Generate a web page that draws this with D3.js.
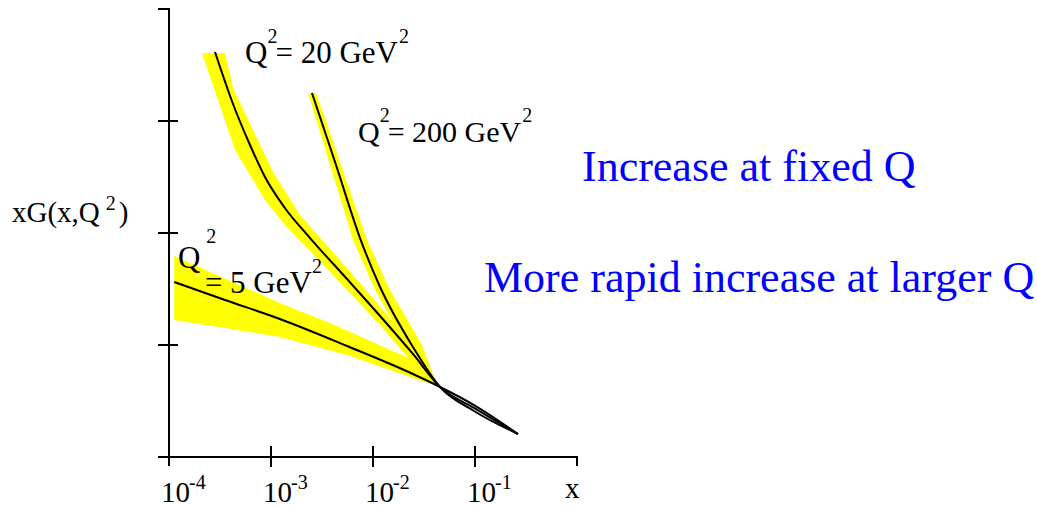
<!doctype html>
<html>
<head>
<meta charset="utf-8">
<script src="https://d3js.org/d3.v7.min.js"></script>
<style>
  body{margin:0;background:#fff;}
  svg{font-family:'Liberation Serif','Times New Roman',serif;}
  .axis path,.axis line{stroke:#000;stroke-width:2px;shape-rendering:crispEdges;}
  .band{fill:#ffff00;stroke:none;}
  .curve{fill:none;stroke:#000;stroke-width:2px;}
  .note{fill:#0000ff;font-size:44px;}
</style>
</head>
<body>
<svg id="chart" width="1037" height="508"></svg>
<script>
// x ticks (powers of ten) and their exponents
var xTicks = [1e-4, 1e-3, 1e-2, 1e-1];
var xTickExp = ['-4', '-3', '-2', '-1'];
var yTicks = [1, 2, 3];

// central curves, [x, xG]
var q5Line = [[1.15e-4,1.554],[3.62e-4,1.393],[1.25e-3,1.223],[5.69e-3,0.982],[2.52e-2,0.732],[4.65e-2,0.616],[0.1,0.455],[0.27,0.196]];
var q20Line = [[2.89e-4,3.607],[4.34e-4,3.143],[6.37e-4,2.777],[8.93e-4,2.491],[1.40e-3,2.214],[2.47e-3,1.946],[5.69e-3,1.580],[1.20e-2,1.250],[2.52e-2,0.911],[4.65e-2,0.616],[0.1,0.429],[0.27,0.196]];
var q200Line = [[2.58e-3,3.241],[4.44e-3,2.598],[7.63e-3,1.946],[1.20e-2,1.509],[2.52e-2,0.973],[4.65e-2,0.616],[0.1,0.402],[0.27,0.196]];

// error bands: one edge then the other
var q5BandHi = [[1.15e-4,1.786],[1.25e-3,1.366],[3.87e-3,1.188],[2.52e-2,0.857],[4.34e-2,0.643]];
var q5BandLo = [[1.15e-4,1.214],[1.25e-3,1.063],[5.69e-3,0.902],[2.52e-2,0.696],[4.34e-2,0.625]];
var q20BandLo = [[2.15e-4,3.598],[4.54e-4,2.732],[8.93e-4,2.286],[1.40e-3,2.063],[3.87e-3,1.643],[1.20e-2,1.170],[2.96e-2,0.750],[4.34e-2,0.634]];
var q20BandHi = [[3.62e-4,3.598],[4.34e-4,3.286],[1.07e-3,2.536],[1.97e-3,2.152],[4.85e-3,1.750],[1.50e-2,1.232],[3.54e-2,0.750],[4.34e-2,0.634]];
var q200BandLo = [[2.36e-3,3.241],[6.52e-3,1.929],[1.07e-2,1.482],[2.36e-2,0.929],[4.34e-2,0.634]];
var q200BandHi = [[2.83e-3,3.241],[8.93e-3,1.929],[1.50e-2,1.482],[3.09e-2,0.991],[4.34e-2,0.634]];

var svg = d3.select('#chart');
var xScale = d3.scaleLog().domain([1e-4, 1]).range([168, 576]);
var yScale = d3.scaleLinear().domain([0, 4]).range([456, 8]);

// bands
var bandPath = d3.line().x(d=>xScale(d[0])).y(d=>yScale(d[1]));
function drawBand(a, b){
  svg.append('path').attr('class','band')
    .attr('d', bandPath(a.concat(b.slice().reverse())) + 'Z');
}
drawBand(q5BandHi, q5BandLo);
drawBand(q20BandLo, q20BandHi);
drawBand(q200BandLo, q200BandHi);

// curves
var curve = d3.line().curve(d3.curveMonotoneX)
  .x(d=>xScale(d[0])).y(d=>yScale(d[1]));
[q5Line, q20Line, q200Line].forEach(function(d){
  svg.append('path').attr('class','curve').attr('d', curve(d));
});

// axes
var xAxis = d3.axisBottom(xScale).tickValues(xTicks.slice(1)).tickFormat('').tickSizeOuter(0).tickSize(10);
var gx = svg.append('g').attr('class','axis')
  .attr('transform','translate(0,'+yScale(0)+')').call(xAxis);
gx.selectAll('.tick line').attr('y1',-10).attr('y2',11);

var yAxis = d3.axisLeft(yScale).tickValues(yTicks).tickFormat('').tickSizeOuter(0).tickSize(10);
var gy = svg.append('g').attr('class','axis')
  .attr('transform','translate('+xScale(1e-4)+',0)').call(yAxis);
gy.selectAll('.tick line').attr('x1',-10).attr('x2',10);

// tick labels 10^n
var lab = svg.selectAll('text.xlab').data(xTicks).enter()
  .append('text').attr('class','xlab')
  .attr('x', d=>xScale(d)-7).attr('y', 502)
  .style('font-size','29px');
lab.append('tspan').text('10');
lab.append('tspan').attr('dy',-13).attr('dx',-1).style('font-size','20px')
  .text((d,i)=>xTickExp[i]);

svg.append('text').attr('x',565).attr('y',498).style('font-size','29px').text('x');

// y label
var yl = svg.append('text').attr('x',12).attr('y',222).style('font-size','29px');
yl.append('tspan').text('xG(x,Q');
yl.append('tspan').attr('dx',6).attr('dy',-12).style('font-size','20px').text('2');
yl.append('tspan').attr('dx',3).attr('dy',12).text(')');

// curve labels
function qLabel(x, y, val, size){
  var t = svg.append('text').attr('x',xScale(x)).attr('y',yScale(y)).style('font-size',size+'px');
  t.append('tspan').text('Q');
  t.append('tspan').attr('dy',-20).style('font-size','20px').text('2');
  t.append('tspan').attr('dx',-2).attr('dy',20).text('= '+val+' GeV');
  t.append('tspan').attr('dx',1).attr('dy',-20).style('font-size','20px').text('2');
}
qLabel(5.69e-4, 3.509, '20', 31);
qLabel(7.29e-3, 2.804, '200', 30);

var q5x = xScale(1.25e-4), q5y = yScale(1.679);
var t5 = svg.append('text').attr('x',q5x).attr('y',q5y).style('font-size','31px');
t5.append('tspan').text('Q');
t5.append('tspan').attr('dx',6).attr('dy',-25).style('font-size','20px').text('2');
var t5b = svg.append('text').attr('x',q5x+27).attr('y',q5y+25).style('font-size','31px');
t5b.append('tspan').text('= 5 GeV');
t5b.append('tspan').attr('dy',-20).style('font-size','20px').text('2');

// notes
svg.append('text').attr('class','note').attr('x',582).attr('y',181).text('Increase at fixed Q');
svg.append('text').attr('class','note').attr('x',484).attr('y',292).text('More rapid increase at larger Q');
</script>
</body>
</html>
